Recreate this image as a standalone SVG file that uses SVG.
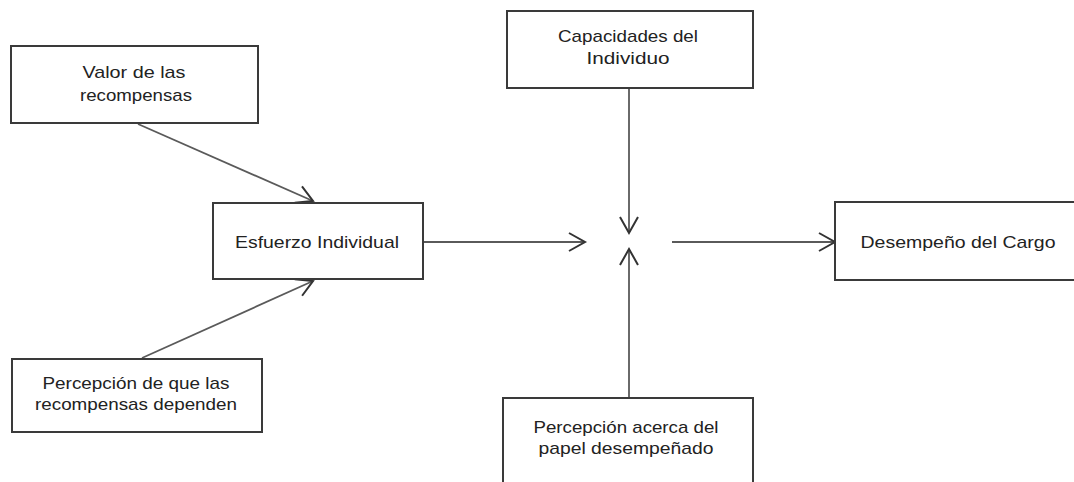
<svg xmlns="http://www.w3.org/2000/svg" width="1074" height="482" viewBox="0 0 1074 482">
  <style>
    .box { fill: #ffffff; stroke: #3a3a3a; stroke-width: 2; }
    .lbl { font-family: "Liberation Sans", Arial, sans-serif; font-size: 17px; fill: #222222; text-anchor: middle; }
    .conn { stroke: #5a5a5a; stroke-width: 1.8; fill: none; marker-end: url(#arr); }
  </style>
  <defs>
    <marker id="arr" markerUnits="userSpaceOnUse" orient="auto" refX="0" refY="0" markerWidth="20" markerHeight="20" overflow="visible">
      <path d="M-16,-9 L0,0 L-16,9" fill="none" stroke="#333333" stroke-width="2"/>
    </marker>
  </defs>
  <rect x="0" y="0" width="1074" height="482" fill="#ffffff"/>

  <g id="connectors">
    <line class="conn" x1="138" y1="124" x2="313" y2="201"/>
    <line class="conn" x1="142" y1="358" x2="313" y2="281"/>
    <line class="conn" x1="423" y1="242" x2="585" y2="242"/>
    <line class="conn" x1="629" y1="88" x2="629" y2="233"/>
    <line class="conn" x1="629" y1="398" x2="629" y2="249"/>
    <line class="conn" x1="672" y1="242" x2="835" y2="242"/>
  </g>

  <g id="valor">
    <rect class="box" x="11" y="46" width="247" height="77"/>
    <text class="lbl" x="134" y="78" textLength="103" lengthAdjust="spacingAndGlyphs">Valor de las</text>
    <text class="lbl" x="136" y="101" textLength="112" lengthAdjust="spacingAndGlyphs">recompensas</text>
  </g>

  <g id="esfuerzo">
    <rect class="box" x="213" y="203" width="210" height="76"/>
    <text class="lbl" x="317" y="248" textLength="164" lengthAdjust="spacingAndGlyphs">Esfuerzo Individual</text>
  </g>

  <g id="percepcion-recompensas">
    <rect class="box" x="12" y="359" width="250" height="73"/>
    <text class="lbl" x="136" y="389" textLength="187" lengthAdjust="spacingAndGlyphs">Percepción de que las</text>
    <text class="lbl" x="136" y="410" textLength="202" lengthAdjust="spacingAndGlyphs">recompensas dependen</text>
  </g>

  <g id="capacidades">
    <rect class="box" x="507" y="11" width="246" height="77"/>
    <text class="lbl" x="628" y="42" textLength="140" lengthAdjust="spacingAndGlyphs">Capacidades del</text>
    <text class="lbl" x="628" y="64" textLength="83" lengthAdjust="spacingAndGlyphs">Individuo</text>
  </g>

  <g id="percepcion-papel">
    <rect class="box" x="503" y="398" width="250" height="100"/>
    <text class="lbl" x="626" y="433" textLength="185" lengthAdjust="spacingAndGlyphs">Percepción acerca del</text>
    <text class="lbl" x="626" y="454" textLength="175" lengthAdjust="spacingAndGlyphs">papel desempeñado</text>
  </g>

  <g id="desempeno">
    <rect class="box" x="835" y="202" width="260" height="78"/>
    <text class="lbl" x="958" y="248" textLength="195" lengthAdjust="spacingAndGlyphs">Desempeño del Cargo</text>
  </g>
</svg>
